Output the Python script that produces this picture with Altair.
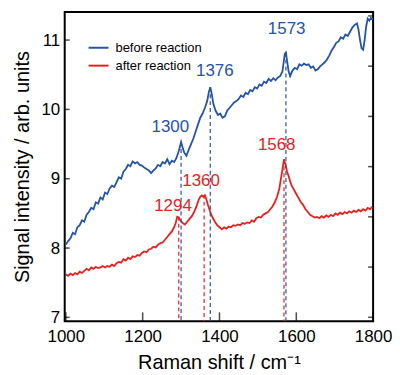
import altair as alt
import pandas as pd

series_names = ["before reaction", "after reaction"]

before_x = [1000, 1006, 1012, 1018, 1024, 1030, 1036, 1042, 1048, 1054, 1060, 1066, 1072, 1078, 1084,
            1090, 1096, 1102, 1108, 1114, 1120, 1126, 1132, 1138, 1144, 1150, 1156, 1162, 1168, 1174,
            1180, 1186, 1192, 1198, 1204, 1210, 1216, 1222, 1228, 1234, 1240, 1246, 1252, 1258, 1264,
            1270, 1276, 1282, 1288, 1294, 1300, 1304, 1308, 1314, 1320, 1326, 1332, 1338, 1344, 1350,
            1356, 1362, 1368, 1372, 1376, 1380, 1384, 1390, 1396, 1402, 1408, 1414, 1420, 1426, 1432,
            1438, 1444, 1450, 1456, 1462, 1468, 1474, 1480, 1486, 1492, 1498, 1504, 1510, 1516, 1522,
            1528, 1534, 1540, 1546, 1552, 1558, 1564, 1570, 1573, 1576, 1580, 1584, 1590, 1596, 1602,
            1608, 1614, 1620, 1626, 1632, 1638, 1644, 1650, 1656, 1662, 1668, 1674, 1680, 1686, 1692,
            1698, 1704, 1710, 1716, 1722, 1728, 1734, 1740, 1746, 1752, 1758, 1762, 1766, 1770, 1774,
            1778, 1782, 1786, 1790, 1794, 1800]
before_y = [8.05, 8.10, 8.14, 8.22, 8.20, 8.30, 8.33, 8.40, 8.38, 8.48, 8.52, 8.58, 8.56, 8.66, 8.64,
            8.73, 8.70, 8.80, 8.78, 8.86, 8.90, 8.88, 8.95, 9.02, 9.00, 9.10, 9.14, 9.20, 9.18, 9.25,
            9.22, 9.24, 9.20, 9.19, 9.16, 9.14, 9.12, 9.08, 9.12, 9.15, 9.20, 9.18, 9.24, 9.22, 9.28,
            9.21, 9.26, 9.24, 9.30, 9.40, 9.53, 9.45, 9.38, 9.33, 9.42, 9.50, 9.58, 9.68, 9.78, 9.88,
            9.94, 10.02, 10.12, 10.24, 10.32, 10.22, 10.08, 9.98, 9.92, 9.94, 9.88, 9.90, 9.98, 10.02, 10.06,
            10.10, 10.12, 10.15, 10.20, 10.18, 10.24, 10.22, 10.28, 10.26, 10.32, 10.30, 10.36, 10.34, 10.40, 10.38,
            10.44, 10.41, 10.45, 10.42, 10.46, 10.48, 10.55, 10.80, 10.82, 10.70, 10.55, 10.48, 10.56, 10.60, 10.58,
            10.65, 10.63, 10.66, 10.64, 10.65, 10.60, 10.62, 10.56, 10.58, 10.62, 10.65, 10.68, 10.72, 10.78, 10.85,
            10.90, 10.96, 10.98, 11.04, 11.02, 11.08, 11.06, 11.12, 11.18, 11.22, 11.24, 11.15, 11.00, 10.88, 10.86,
            11.00, 11.20, 11.31, 11.28, 11.32, 11.30]

after_x = [1000, 1006, 1012, 1018, 1024, 1030, 1036, 1042, 1048, 1054, 1060, 1066, 1072, 1078, 1084,
           1090, 1096, 1102, 1108, 1114, 1120, 1126, 1132, 1138, 1144, 1150, 1156, 1162, 1168, 1174,
           1180, 1186, 1192, 1198, 1204, 1210, 1216, 1222, 1228, 1234, 1240, 1246, 1252, 1258, 1264,
           1270, 1276, 1282, 1286, 1290, 1294, 1298, 1304, 1310, 1316, 1322, 1328, 1334, 1340, 1346,
           1350, 1354, 1358, 1362, 1366, 1370, 1376, 1382, 1388, 1394, 1400, 1406, 1412, 1418, 1424,
           1430, 1436, 1442, 1448, 1454, 1460, 1466, 1472, 1478, 1484, 1490, 1496, 1502, 1508, 1514,
           1520, 1526, 1532, 1538, 1544, 1550, 1556, 1560, 1564, 1568, 1572, 1576, 1580, 1584, 1588,
           1592, 1596, 1600, 1606, 1612, 1618, 1624, 1630, 1636, 1642, 1648, 1654, 1660, 1666, 1672,
           1678, 1684, 1690, 1696, 1702, 1708, 1714, 1720, 1726, 1732, 1738, 1744, 1750, 1756, 1762,
           1768, 1774, 1780, 1786, 1792, 1798]
after_y = [7.62, 7.60, 7.63, 7.61, 7.64, 7.62, 7.66, 7.64, 7.67, 7.70, 7.68, 7.72, 7.70, 7.73, 7.71,
           7.72, 7.74, 7.72, 7.74, 7.73, 7.76, 7.74, 7.78, 7.80, 7.79, 7.84, 7.82, 7.86, 7.84, 7.88,
           7.87, 7.90, 7.89, 7.93, 7.95, 7.94, 7.98, 7.99, 8.02, 8.01, 8.05, 8.07, 8.08, 8.12, 8.16,
           8.20, 8.24, 8.30, 8.36, 8.45, 8.44, 8.40, 8.36, 8.34, 8.38, 8.42, 8.46, 8.52, 8.60, 8.70,
           8.74, 8.76, 8.74, 8.76, 8.70, 8.62, 8.52, 8.44, 8.38, 8.33, 8.30, 8.27, 8.30, 8.28, 8.31,
           8.30, 8.33, 8.32, 8.34, 8.33, 8.36, 8.35, 8.37, 8.36, 8.40, 8.38, 8.43, 8.45, 8.44, 8.48,
           8.50, 8.52, 8.56, 8.60, 8.66, 8.74, 8.86, 9.00, 9.14, 9.28, 9.20, 9.10, 9.04, 8.96, 8.90,
           8.86, 8.82, 8.78, 8.72, 8.66, 8.62, 8.56, 8.52, 8.48, 8.46, 8.44, 8.45, 8.43, 8.46, 8.44,
           8.47, 8.45, 8.48, 8.46, 8.50, 8.48, 8.51, 8.49, 8.52, 8.50, 8.53, 8.51, 8.54, 8.52, 8.55,
           8.53, 8.56, 8.54, 8.58, 8.56, 8.60]

peak_series = ["before reaction", "before reaction", "before reaction",
               "after reaction", "after reaction", "after reaction"]
peak_pos = [1300, 1376, 1573, 1294, 1360, 1568]
peak_int = [9.53, 10.32, 10.82, 8.45, 8.77, 9.28]
label_text = ["1300", "1376", "1573", "1294", "1360", "1568"]
label_x = [1272, 1388, 1575, 1279, 1352, 1549]
label_y = [9.74, 10.56, 11.16, 8.61, 8.97, 9.48]

x_ticks = [1000, 1200, 1400, 1600, 1800]
y_ticks = [7, 8, 9, 10, 11]
right_ticks = [0, 1, 2, 3, 4, 5, 6]

BLUE = "#2453a8"
RED = "#e8211d"
FONT = "Liberation Sans"
W, H = 310, 311

spec_df = pd.concat([
    pd.DataFrame({"shift": before_x, "intensity": before_y, "series": series_names[0]}),
    pd.DataFrame({"shift": after_x, "intensity": after_y, "series": series_names[1]}),
])
peaks_df = pd.DataFrame({"pos": peak_pos, "val": peak_int, "series": peak_series})
labels_df = pd.DataFrame({"lx": label_x, "ly": label_y, "label": label_text, "series": peak_series})

xs = alt.Scale(domain=[997, 1800], nice=False, zero=False)
ys = alt.Scale(domain=[6.943, 11.406], nice=False, zero=False)
cs = alt.Scale(domain=series_names, range=[BLUE, RED])

lines = alt.Chart(spec_df).mark_line(strokeWidth=1.8, clip=True).encode(
    x=alt.X("shift:Q", scale=xs, axis=alt.Axis(
        values=x_ticks, format="d", ticks=False, tickSize=0, domain=False, grid=False,
        labelPadding=7, labelFontSize=17, labelFlush=False,
        title="Raman shift / cm⁻¹", titleFontSize=20, titlePadding=8, titleFontWeight="normal")),
    y=alt.Y("intensity:Q", scale=ys, axis=alt.Axis(
        values=y_ticks, format="d", ticks=False, tickSize=0, domain=False, grid=False,
        labelPadding=5, labelFontSize=17, labelFlush=False,
        title="Signal intensity / arb. units", titleFontSize=20, titlePadding=8,
        titleFontWeight="normal")),
    color=alt.Color("series:N", scale=cs, legend=alt.Legend(
        title=None, orient="none", legendX=23, legendY=25, symbolType="stroke",
        symbolSize=400, symbolStrokeWidth=2, labelFontSize=13, labelOffset=6,
        rowPadding=0, padding=0, labelFont=FONT, labelColor="black")),
)

rules = alt.Chart(peaks_df).mark_rule(strokeDash=[4, 3], strokeWidth=1.2).encode(
    x=alt.X("pos:Q", scale=xs),
    y=alt.Y("val:Q", scale=ys),
    y2=alt.datum(6.943),
    color=alt.Color("series:N", scale=cs, legend=None),
)

texts = alt.Chart(labels_df).mark_text(fontSize=17, font=FONT).encode(
    x=alt.X("lx:Q", scale=xs),
    y=alt.Y("ly:Q", scale=ys),
    text="label:N",
    color=alt.Color("series:N", scale=cs, legend=None),
)

# inward tick marks (drawn through the same scales)
xt = alt.Chart(pd.DataFrame({"t": x_ticks})).mark_tick(
    orient="vertical", size=9, thickness=1.5, color="black").encode(
    x=alt.X("t:Q", scale=xs), y=alt.value(H - 4.5))

yl = alt.Chart(pd.DataFrame({"t": y_ticks})).mark_tick(
    orient="horizontal", size=5, thickness=1.5, color="black").encode(
    y=alt.Y("t:Q", scale=ys), x=alt.value(2.5))

inner = alt.layer(lines, rules, texts, xt, yl)

yr = alt.Chart(pd.DataFrame({"t": right_ticks})).mark_tick(
    orient="horizontal", size=5, thickness=1.5, color="black").encode(
    y=alt.Y("t:Q", scale=alt.Scale(domain=[-0.08, 6.08], nice=False, zero=False), axis=None),
    x=alt.value(W - 2.5))

chart = alt.layer(inner, yr).resolve_scale(
    y="independent"
).properties(
    width=W, height=H, padding={"left": 5, "top": 3, "right": 0, "bottom": 0}
).configure_view(
    stroke="black", strokeWidth=2
).configure_axis(
    labelFont=FONT, titleFont=FONT, labelColor="black", titleColor="black", tickColor="black"
)

chart.save("out.html", embed_options={"renderer": "svg", "actions": False})
